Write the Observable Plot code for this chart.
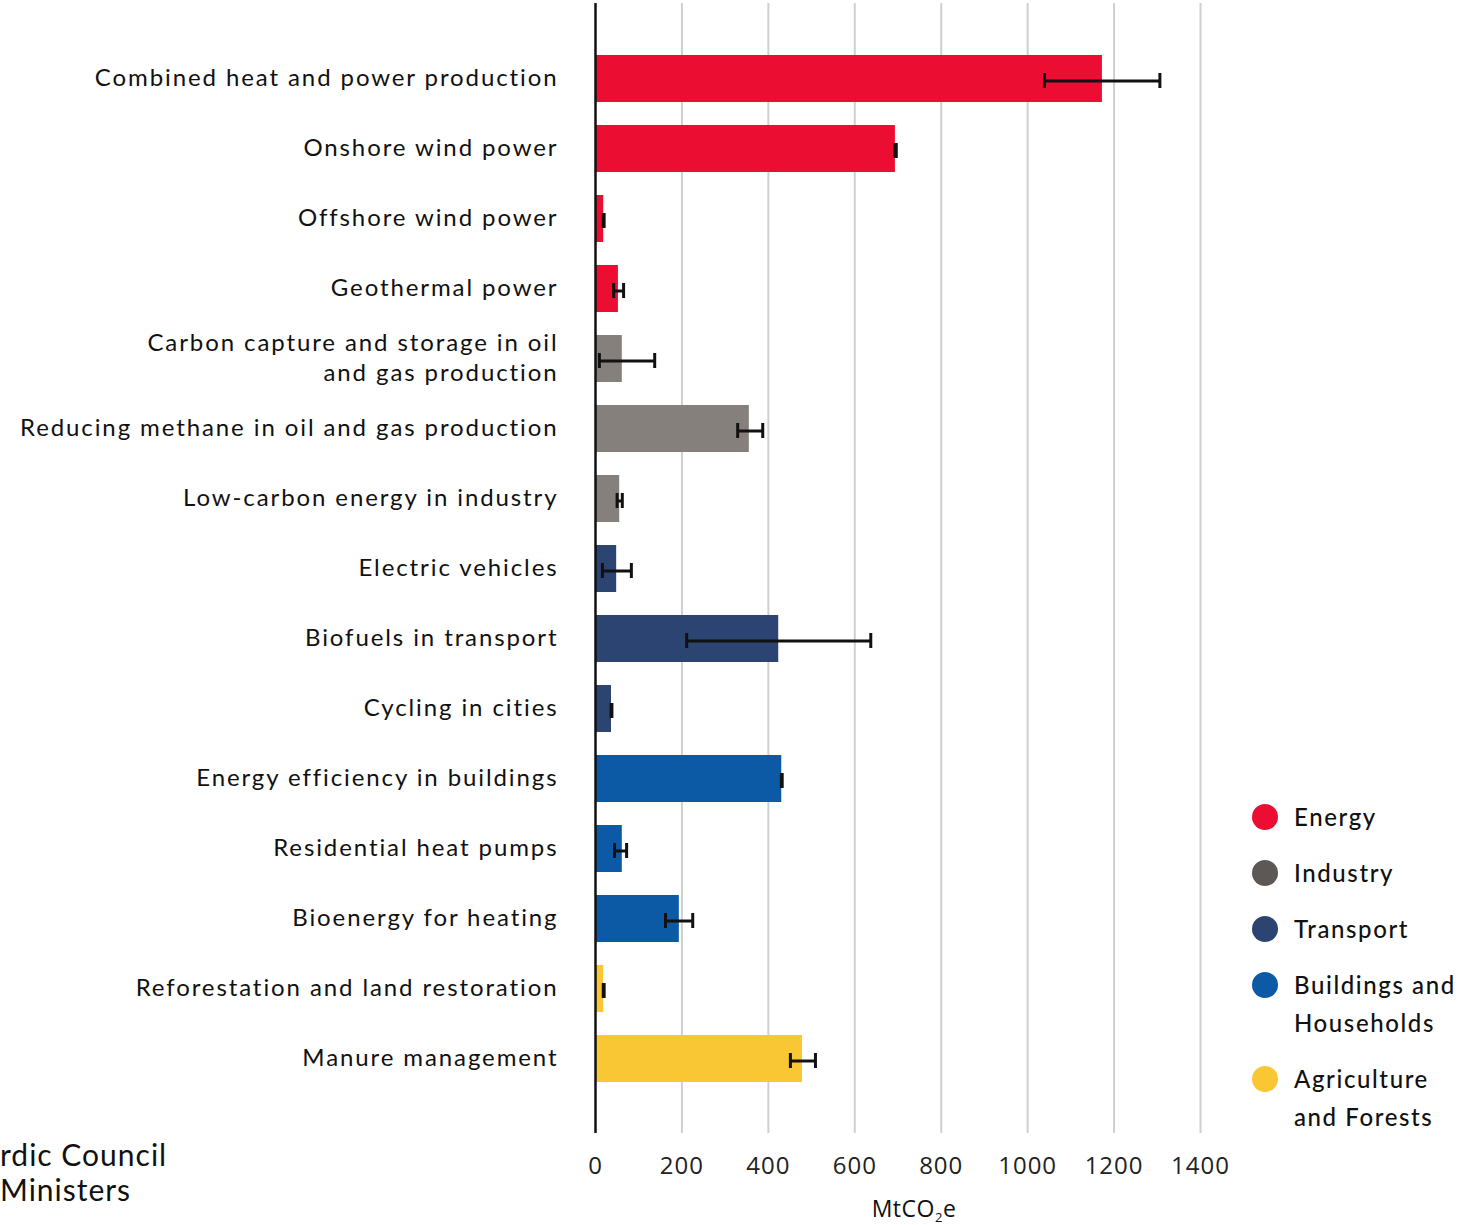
<!DOCTYPE html>
<html>
<head>
<meta charset="utf-8">
<script src="https://cdn.jsdelivr.net/npm/d3@7"></script>
<script src="https://cdn.jsdelivr.net/npm/@observablehq/plot@0.6"></script>
<style>
  html, body { margin: 0; padding: 0; background: #fff; }
  #wrap { position: relative; width: 1468px; height: 1225px; overflow: hidden; font-family: Lato, "Open Sans", sans-serif; color: #111; }
  #legend { position: absolute; left: 1252px; top: 798px; font-size: 24px; font-weight: 500; letter-spacing: 1.6px; }
  .item { position: relative; padding-left: 42px; line-height: 38px; margin-bottom: 18px; }
  .dot { position: absolute; left: 0; top: 6px; width: 26px; height: 26px; border-radius: 50%; }
  #footer1 { position: absolute; left: 0; top: 1137px; font-size: 30px; letter-spacing: 1px; line-height: 34px; white-space: nowrap; }
  #footer2 { position: absolute; left: 0; top: 1172px; font-size: 30px; letter-spacing: 1px; line-height: 34px; white-space: nowrap; }
  #xlabel { position: absolute; left: 914px; top: 1195px; transform: translateX(-50%); font-size: 23px; line-height: 26px; letter-spacing: 0.5px; font-family: "Open Sans", sans-serif; white-space: nowrap; }
  #xlabel sub { font-size: 13px; vertical-align: baseline; position: relative; top: 5px; }
  g[aria-label="y-axis tick label"] text { letter-spacing: 1.9px; }
  g[aria-label="x-axis tick label"] text { letter-spacing: 1px; }
</style>
</head>
<body>
<div id="wrap">
  <div id="chart"></div>
  <div id="legend"></div>
  <div id="footer1">rdic Council</div>
  <div id="footer2">Ministers</div>
  <div id="xlabel">MtCO<sub>2</sub>e</div>
</div>
<script>
const categories = [
  "Combined heat and power production",
  "Onshore wind power",
  "Offshore wind power",
  "Geothermal power",
  "Carbon capture and storage in oil\nand gas production",
  "Reducing methane in oil and gas production",
  "Low-carbon energy in industry",
  "Electric vehicles",
  "Biofuels in transport",
  "Cycling in cities",
  "Energy efficiency in buildings",
  "Residential heat pumps",
  "Bioenergy for heating",
  "Reforestation and land restoration",
  "Manure management"
];
const sectorOf = [
  "Energy", "Energy", "Energy", "Energy",
  "Industry", "Industry", "Industry",
  "Transport", "Transport", "Transport",
  "Buildings and Households", "Buildings and Households", "Buildings and Households",
  "Agriculture and Forests", "Agriculture and Forests"
];
const values = [1173, 694, 19, 53, 62, 356, 56, 49, 424, 37, 431, 62, 194, 19, 479];
const lows   = [1039, 693, 18, 42, 9, 329, 50, 16, 211, 36, 430, 44, 162, 18, 451];
const highs  = [1306, 696, 20, 65, 137, 387, 62, 83, 637, 38, 432, 72, 225, 20, 509];

const sectors = ["Energy", "Industry", "Transport", "Buildings and Households", "Agriculture and Forests"];
const barColors = ["#EC0D32", "#85807B", "#2B4472", "#0C5AA6", "#F9C634"];
const legendColors = ["#EC0D32", "#5D5855", "#2B4472", "#0C5AA6", "#F9C634"];
const legendLabels = ["Energy", "Industry", "Transport", "Buildings and<br>Households", "Agriculture<br>and Forests"];
const xTicks = [0, 200, 400, 600, 800, 1000, 1200, 1400];

const data = categories.map((c, i) => ({
  category: c, sector: sectorOf[i], value: values[i], lo: lows[i], hi: highs[i]
}));

const chart = Plot.plot({
  width: 1468,
  height: 1225,
  marginLeft: 595,
  marginRight: 268,
  marginTop: 3,
  marginBottom: 92,
  style: { fontFamily: "Lato, 'Open Sans', sans-serif", background: "white" },
  x: { domain: [0, 1400], ticks: xTicks, label: null },
  y: { domain: categories, paddingInner: 0.33, paddingOuter: 0.7, label: null },
  color: { domain: sectors, range: barColors },
  marks: [
    Plot.gridX(xTicks.filter(d => d > 0), { stroke: "#cfcfcf", strokeOpacity: 1, strokeWidth: 2 }),
    Plot.barX(data, { x: "value", y: "category", fill: "sector" }),
    Plot.ruleY(data, { x1: "lo", x2: "hi", y: "category", stroke: "#111", strokeWidth: 3, dy: 2 }),
    Plot.tickX(data, { x: "lo", y: "category", stroke: "#111", strokeWidth: 3, insetTop: 18, insetBottom: 14 }),
    Plot.tickX(data, { x: "hi", y: "category", stroke: "#111", strokeWidth: 3, insetTop: 18, insetBottom: 14 }),
    Plot.ruleX([0], { stroke: "#111", strokeWidth: 2.5 }),
    Plot.axisY({ tickSize: 0, tickPadding: 37, fontSize: 24, lineHeight: 1.25, fill: "#111", label: null, textAnchor: "end", dy: -3 }),
    Plot.axisX({ ticks: xTicks, tickSize: 0, tickPadding: 23, fontSize: 24, fill: "#222", label: null, tickFormat: d => String(d), fontFamily: "'Open Sans', sans-serif" })
  ]
});
document.getElementById("chart").appendChild(chart);

const legend = document.getElementById("legend");
sectors.forEach((s, i) => {
  const div = document.createElement("div");
  div.className = "item";
  div.innerHTML = `<span class="dot" style="background:${legendColors[i]}"></span>${legendLabels[i]}`;
  legend.appendChild(div);
});
</script>
</body>
</html>
